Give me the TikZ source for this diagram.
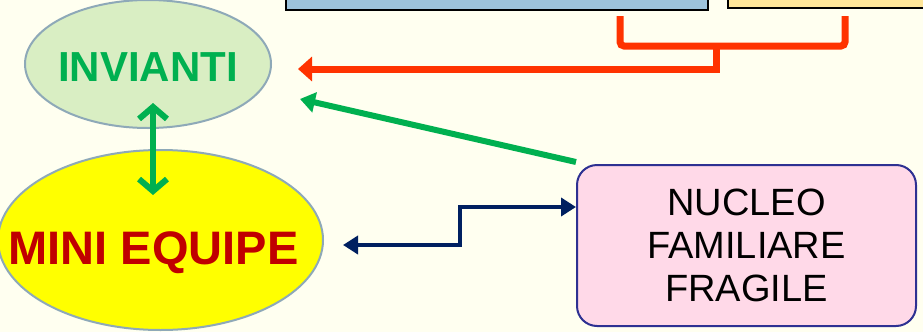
\documentclass[tikz,border=0pt]{standalone}
\usepackage{fontspec}
\setmainfont{Liberation Sans}
\usepackage{xcolor}
\usetikzlibrary{arrows.meta}
\usetikzlibrary{shapes.geometric}

\definecolor{bgcol}{HTML}{FFFFF0}
\definecolor{boxblue}{HTML}{9DC3DB}
\definecolor{boxyellow}{HTML}{FFE699}
\definecolor{linered}{HTML}{FF3300}
\definecolor{linegreen}{HTML}{00B050}
\definecolor{linenavy}{HTML}{002060}
\definecolor{invfill}{HTML}{D9EEC3}
\definecolor{ellborder}{HTML}{8EA9B8}
\definecolor{miniyellow}{HTML}{FFFF00}
\definecolor{minired}{HTML}{C00000}
\definecolor{nucfill}{HTML}{FFD9E8}
\definecolor{nucborder}{HTML}{2E3192}

\begin{document}
\begin{tikzpicture}
    [x=1pt, y=-1pt,
      % Stil fuer die oberen Kaesten
      topbox/.style={rectangle, draw=black, line width=2pt, minimum height=50pt, inner sep=0pt},
      % Stil fuer die Ellipsen
      ell/.style={ellipse, draw=ellborder, line width=2pt, inner ysep=0pt, inner xsep=-60pt},
      % Stil fuer den Kasten rechts
      nuc/.style={rectangle, rounded corners=20pt, fill=nucfill, draw=nucborder, line width=2pt,
        minimum width=339pt, minimum height=161pt, align=center,
        font=\fontsize{38}{43}\selectfont},
      % Stil fuer die Verbindungen
      redline/.style={draw=linered, line width=7pt},
      greenline/.style={draw=linegreen, line width=6pt},
      navyline/.style={draw=linenavy, line width=4.5pt}]
    \useasboundingbox[fill=bgcol] (0,0) rectangle (923,332);
    % Knoten
    \node[topbox, fill=boxblue, minimum width=422pt] (blue) at (497,-15) {};
    \node[topbox, fill=boxyellow, minimum width=272pt] (yellow) at (864,-17) {};
    \node[ell, fill=invfill, minimum width=246pt, minimum height=128pt] (invianti) at (148,64) {};
    \node[text=linegreen, font=\bfseries\fontsize{42}{50}\selectfont] (invtext)
      at ([yshift=-3pt]invianti.center) {INVIANTI};
    \node[ell, fill=miniyellow, minimum width=325pt, minimum height=180pt] (mini) at (160.5,240) {};
    \node[text=minired, font=\bfseries\fontsize{47}{56}\selectfont, text depth=0pt] (minitext)
      at ([xshift=-7pt, yshift=-8pt]mini.center) {MINI EQUIPE};
    \node[nuc] (nucleo) at (746.5,245.5) {NUCLEO\\FAMILIARE\\FRAGILE};
    % Hilfspunkte
    \coordinate (redjoin) at (716,45);
    \coordinate (redtip) at (298,69);
    \coordinate (greentip) at (300,99);
    \coordinate (invbottom) at (153,103);
    \coordinate (minitop) at (153,195);
    \coordinate (navytip) at (343,245);
    % Kanten
    \draw[redline, rounded corners=4pt]
      ([xshift=123pt, yshift=-5pt]blue.south) |- ([xshift=-19pt, yshift=-37pt]yellow.south)
      -- ([xshift=-19pt, yshift=-7pt]yellow.south);
    \draw[redline, -{Triangle[length=14pt, width=24pt]}] (redjoin) |- (redtip);
    \draw[greenline, -{Triangle[length=15pt, width=20pt]}] ([yshift=2pt]nucleo.north west) -- (greentip);
    \draw[greenline, {Straight Barb[length=12pt, width=28pt]}-{Straight Barb[length=12pt, width=28pt]}]
      (invbottom) -- (minitop);
    \draw[navyline, {Triangle[length=15pt, width=18pt]}-{Triangle[length=15pt, width=18pt]}]
      (navytip) -| (460,207) -- ([yshift=38.5pt]nucleo.west);

  \end{tikzpicture}
\end{document}
